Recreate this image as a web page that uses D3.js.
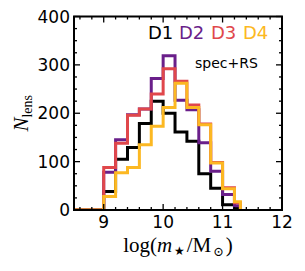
<!DOCTYPE html>
<html>
<head>
<meta charset="utf-8">
<script src="https://cdn.jsdelivr.net/npm/d3@7"></script>
<style>
  html, body { margin: 0; padding: 0; background: #fff; }
  svg { display: block; }
</style>
</head>
<body>
<div id="chart"></div>
<script>
// bin edges (first bin is empty, runs off the left of the axes)
const binEdges = [8.4, 9.0, 9.2, 9.4, 9.6, 9.8, 10.0, 10.2, 10.4, 10.6, 10.8, 11.0, 11.2, 11.3];

const seriesNames = ["D1", "D2", "D3", "D4"];
const countsD1 = [0, 38, 105, 129, 179, 225, 200, 161, 142, 75, 45, 11, 4];
const countsD2 = [0, 78, 145, 197, 209, 272, 319, 227, 207, 139, 80, 32, 9];
const countsD3 = [0, 88, 138, 196, 209, 240, 292, 266, 217, 178, 98, 46, 15];
const countsD4 = [0, 28, 77, 88, 135, 173, 212, 262, 212, 176, 97, 44, 17];
const seriesColors = ["#000000", "#6a1f8a", "#e0474b", "#fcb822"];

const xTicks = [9, 10, 11, 12];
const yTicks = [0, 100, 200, 300, 400];
const annotation = "spec+RS";

const W = 305, H = 271;
const margin = { left: 74, right: 23, top: 16.5, bottom: 61 };

const svg = d3.select("#chart").append("svg")
  .attr("width", W).attr("height", H)
  .attr("viewBox", `0 0 ${W} ${H}`);

const x = d3.scaleLinear().domain([8.5, 12]).range([margin.left, W - margin.right]);
const y = d3.scaleLinear().domain([0, 400]).range([H - margin.bottom, margin.top]);

svg.append("defs").append("clipPath").attr("id", "plot-clip")
  .append("rect")
  .attr("x", x(8.5)).attr("y", y(400))
  .attr("width", x(12) - x(8.5)).attr("height", y(0) - y(400));

// matplotlib-style step outline
const stepPoints = counts => {
  const pts = [[binEdges[0], 0]];
  counts.forEach((c, i) => {
    pts.push([binEdges[i], c]);
    pts.push([binEdges[i + 1], c]);
  });
  pts.push([binEdges[binEdges.length - 1], 0]);
  return pts;
};

const line = d3.line().x(d => x(d[0])).y(d => y(d[1]));

svg.append("g")
  .attr("clip-path", "url(#plot-clip)")
  .selectAll("path")
  .data([countsD1, countsD2, countsD3, countsD4])
  .join("path")
  .attr("d", d => line(stepPoints(d)))
  .attr("fill", "none")
  .attr("stroke", (_, i) => seriesColors[i])
  .attr("stroke-width", 3)
  .attr("stroke-linejoin", "miter");

// ticks, all pointing inward on every side
const ticks = svg.append("g").attr("stroke", "#000").attr("stroke-width", 1.3);
const xMinor = d3.range(8.6, 12, 0.2).filter(v => Math.abs(v - Math.round(v)) > 1e-6);
const yMinor = d3.range(25, 400, 25).filter(v => v % 100 !== 0);

xTicks.forEach(v => {
  ticks.append("line").attr("x1", x(v)).attr("x2", x(v)).attr("y1", y(0)).attr("y2", y(0) - 6);
  ticks.append("line").attr("x1", x(v)).attr("x2", x(v)).attr("y1", y(400)).attr("y2", y(400) + 6);
});
xMinor.forEach(v => {
  ticks.append("line").attr("x1", x(v)).attr("x2", x(v)).attr("y1", y(0)).attr("y2", y(0) - 3);
  ticks.append("line").attr("x1", x(v)).attr("x2", x(v)).attr("y1", y(400)).attr("y2", y(400) + 3);
});
yTicks.forEach(v => {
  ticks.append("line").attr("x1", x(8.5)).attr("x2", x(8.5) + 6).attr("y1", y(v)).attr("y2", y(v));
  ticks.append("line").attr("x1", x(12)).attr("x2", x(12) - 6).attr("y1", y(v)).attr("y2", y(v));
});
yMinor.forEach(v => {
  ticks.append("line").attr("x1", x(8.5)).attr("x2", x(8.5) + 3).attr("y1", y(v)).attr("y2", y(v));
  ticks.append("line").attr("x1", x(12)).attr("x2", x(12) - 3).attr("y1", y(v)).attr("y2", y(v));
});

svg.append("rect")
  .attr("x", x(8.5)).attr("y", y(400))
  .attr("width", x(12) - x(8.5)).attr("height", y(0) - y(400))
  .attr("fill", "none").attr("stroke", "#000").attr("stroke-width", 2);

// tick labels
const labelFont = "'DejaVu Sans', sans-serif";
svg.append("g").selectAll("text")
  .data(xTicks)
  .join("text")
  .attr("x", d => x(d)).attr("y", 227.5)
  .attr("text-anchor", "middle")
  .attr("font-family", labelFont).attr("font-size", 17)
  .text(d => d);

svg.append("g").selectAll("text")
  .data(yTicks)
  .join("text")
  .attr("x", x(8.5) - 4).attr("y", d => y(d))
  .attr("dy", "0.36em")
  .attr("text-anchor", "end")
  .attr("font-family", labelFont).attr("font-size", 17)
  .text(d => d);

// axis titles
const serif = "'Liberation Serif', 'DejaVu Serif', serif";
const xt = svg.append("text")
  .attr("x", (x(8.5) + x(12)) / 2).attr("y", 252)
  .attr("text-anchor", "middle")
  .attr("font-family", serif).attr("font-size", 21);
xt.append("tspan").text("log(");
xt.append("tspan").attr("font-style", "italic").text("m");
xt.append("tspan").attr("font-size", 12).attr("dx", 1.5).attr("dy", 3).text("\u2605");
xt.append("tspan").attr("dx", 2).attr("dy", -3).text("/M");
xt.append("tspan").attr("font-size", 13).attr("dx", 2).attr("dy", 4).text("\u2299");
xt.append("tspan").attr("dx", 1.5).attr("dy", -4).text(")");

const yt = svg.append("text")
  .attr("transform", `translate(28,${(y(0) + y(400)) / 2}) rotate(-90)`)
  .attr("text-anchor", "middle")
  .attr("font-family", serif).attr("font-size", 21);
yt.append("tspan").attr("font-style", "italic").text("N");
yt.append("tspan").attr("font-size", 14).attr("dy", 4).text("lens");

// legend labels
const legendX = [148, 179, 211, 243];
svg.append("g").selectAll("text")
  .data(seriesNames)
  .join("text")
  .attr("x", (_, i) => legendX[i]).attr("y", 39)
  .attr("font-family", labelFont).attr("font-size", 18)
  .attr("fill", (_, i) => seriesColors[i])
  .text(d => d);

svg.append("text")
  .attr("x", 195).attr("y", 68)
  .attr("font-family", labelFont).attr("font-size", 14)
  .text(annotation);
</script>
</body>
</html>
